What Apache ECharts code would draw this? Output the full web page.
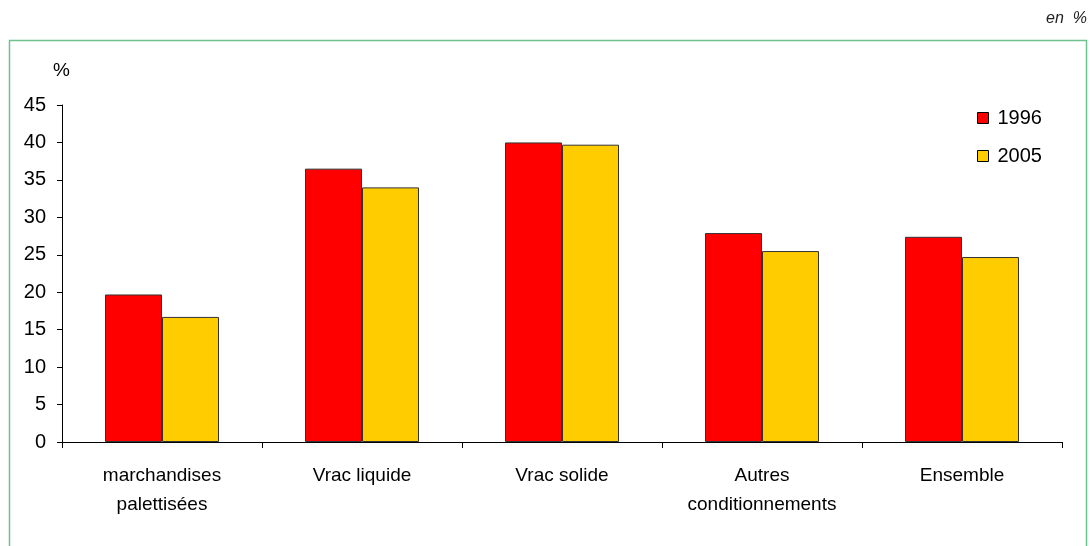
<!DOCTYPE html>
<html>
<head>
<meta charset="utf-8">
<script src="https://cdn.jsdelivr.net/npm/echarts@6/dist/echarts.min.js"></script>
<style>
  html, body { margin: 0; padding: 0; background: #fff; }
  #chart { width: 1090px; height: 546px; }
</style>
</head>
<body>
<div id="chart"></div>
<script>
// Category labels and series values (percent)
const categories = ['marchandises\npalettisées', 'Vrac liquide', 'Vrac solide', 'Autres\nconditionnements', 'Ensemble'];
const values1996 = [19.7, 36.5, 40.0, 27.9, 27.4];
const values2005 = [16.7, 34.0, 39.7, 25.5, 24.7];
const seriesNames = ['1996', '2005'];

const font = 'Liberation Sans, Arial, sans-serif';
const chart = echarts.init(document.getElementById('chart'), null, { renderer: 'canvas' });

chart.setOption({
  animation: false,
  backgroundColor: '#fff',
  textStyle: { fontFamily: font },
  graphic: [
    {
      type: 'rect',
      shape: { x: 9.5, y: 40.5, width: 1077, height: 520 },
      style: { fill: 'none', stroke: '#6cc38f', lineWidth: 1.5 },
      silent: true
    },
    {
      type: 'text',
      right: 3, top: 11,
      style: { text: 'en  %', font: 'italic 16px ' + font, fill: '#222' }
    },
    {
      type: 'text',
      left: 53, top: 61,
      style: { text: '%', font: '19px ' + font, fill: '#000' }
    }
  ],
  legend: {
    orient: 'vertical',
    left: 977, top: 108,
    padding: 0,
    itemWidth: 11, itemHeight: 11,
    itemGap: 18,
    icon: 'rect',
    itemStyle: { borderColor: '#000', borderWidth: 1 },
    textStyle: { fontSize: 20, color: '#000', fontFamily: font, padding: [0, 0, 0, 4] },
    data: seriesNames
  },
  grid: { left: 62, right: 28, top: 105, bottom: 104 },
  xAxis: {
    type: 'category',
    data: categories,
    axisLine: { lineStyle: { color: '#000', width: 1 } },
    axisTick: { show: true, length: 6, lineStyle: { color: '#000' } },
    axisLabel: { color: '#000', fontSize: 19, lineHeight: 29, margin: 19, fontFamily: font, interval: 0 }
  },
  yAxis: {
    type: 'value',
    min: 0, max: 45, interval: 5,
    axisLine: { show: true, lineStyle: { color: '#000', width: 1 } },
    axisTick: { show: true, length: 5, lineStyle: { color: '#000' } },
    axisLabel: { color: '#000', fontSize: 20, margin: 16, fontFamily: font },
    splitLine: { show: false }
  },
  series: [
    {
      name: seriesNames[0],
      type: 'bar',
      data: values1996,
      barGap: '0%',
      barCategoryGap: '43%',
      itemStyle: { color: '#ff0000', borderColor: '#333', borderWidth: 1 }
    },
    {
      name: seriesNames[1],
      type: 'bar',
      data: values2005,
      itemStyle: { color: '#ffcc00', borderColor: '#333', borderWidth: 1 }
    }
  ]
});
</script>
</body>
</html>
